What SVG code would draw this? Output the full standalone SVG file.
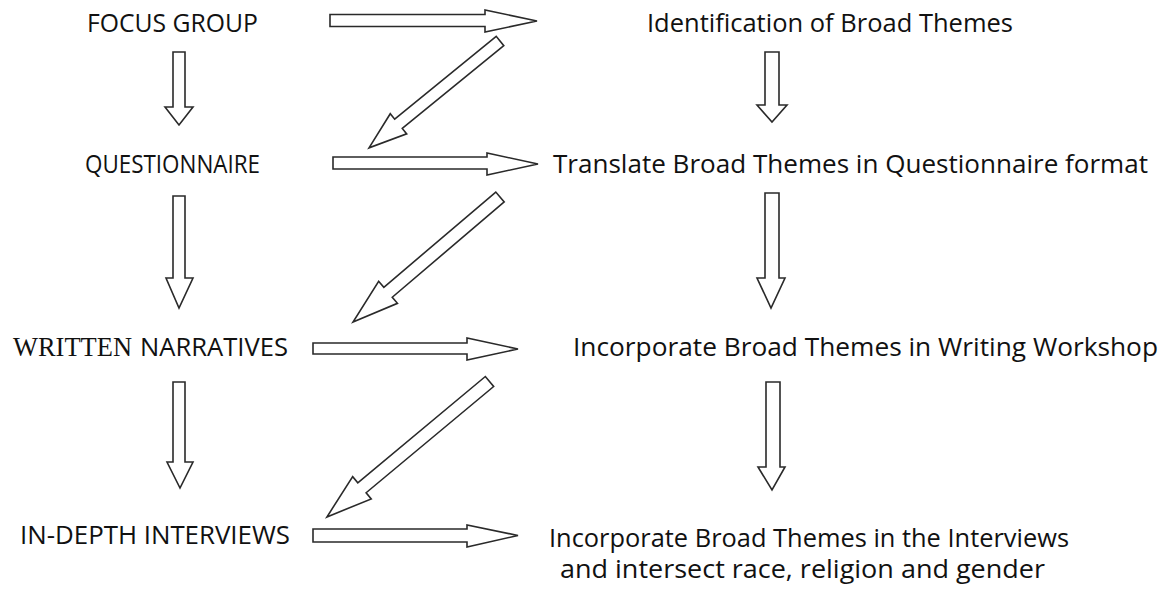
<svg xmlns="http://www.w3.org/2000/svg" width="1169" height="594" viewBox="0 0 1169 594">
  <style>
    .lbl { font-family: "Open Sans", "Liberation Sans", sans-serif; font-size: 25px; fill: #111; }
    .serif { font-family: "Liberation Serif", "Times New Roman", serif; font-size: 27px; fill: #111; }
    .blk { fill: #fff; stroke: #2a2a2a; stroke-width: 1.6; stroke-linejoin: miter; }
  </style>
  <rect width="1169" height="594" fill="#fff"/>

  <!-- left column: research stages -->
  <g id="focus-group">
    <text class="lbl" x="87" y="32" textLength="171" lengthAdjust="spacingAndGlyphs">FOCUS GROUP</text>
  </g>
  <g id="questionnaire">
    <text class="lbl" x="85" y="173" textLength="175" lengthAdjust="spacingAndGlyphs">QUESTIONNAIRE</text>
  </g>
  <g id="written-narratives">
    <text class="serif" x="13" y="356" textLength="119" lengthAdjust="spacingAndGlyphs">WRITTEN</text>
    <text class="lbl" x="140" y="356" textLength="148" lengthAdjust="spacingAndGlyphs">NARRATIVES</text>
  </g>
  <g id="in-depth-interviews">
    <text class="lbl" x="20" y="544" textLength="270" lengthAdjust="spacingAndGlyphs">IN-DEPTH INTERVIEWS</text>
  </g>

  <!-- right column: theme handling -->
  <g id="identify-themes">
    <text class="lbl" x="647" y="32" textLength="366" lengthAdjust="spacingAndGlyphs">Identification of Broad Themes</text>
  </g>
  <g id="translate-themes">
    <text class="lbl" x="553" y="173" textLength="595" lengthAdjust="spacingAndGlyphs">Translate Broad Themes in Questionnaire format</text>
  </g>
  <g id="workshop-themes">
    <text class="lbl" x="573" y="356" textLength="585" lengthAdjust="spacingAndGlyphs">Incorporate Broad Themes in Writing Workshop</text>
  </g>
  <g id="interview-themes">
    <text class="lbl" x="549" y="547" textLength="520" lengthAdjust="spacingAndGlyphs">Incorporate Broad Themes in the Interviews</text>
    <text class="lbl" x="560" y="578" textLength="485" lengthAdjust="spacingAndGlyphs">and intersect race, religion and gender</text>
  </g>

  <!-- block arrows -->
  <g id="connectors">
    <!-- left column, downward -->
    <path class="blk" d="M173,52 H185 V107 H193 L179,125 L165,107 H173 Z"/>
    <path class="blk" d="M173,196 H185 V278 H193 L179,308 L166,278 H173 Z"/>
    <path class="blk" d="M173,382 H185 V462 H193 L180,488 L167,462 H173 Z"/>

    <!-- right column, downward -->
    <path class="blk" d="M765,52 H779 V105 H787 L772,122 L757,105 H765 Z"/>
    <path class="blk" d="M765,193 H779 V278 H785 L771,308 L757,278 H765 Z"/>
    <path class="blk" d="M766,382 H780 V467 H785 L772,490 L758,467 H766 Z"/>

    <!-- across, left to right -->
    <path class="blk" d="M330,14.5 H485 V10 L537,21 L485,32 V26.5 H330 Z"/>
    <path class="blk" d="M333,157 H487 V153 L538,164 L487,175 V169 H333 Z"/>
    <path class="blk" d="M313,343 H467 V338 L518,349 L467,360 V354 H313 Z"/>
    <path class="blk" d="M313,529 H467 V525 L518,535.5 L467,547 V542 H313 Z"/>

    <!-- diagonal returns, right column back to next stage -->
    <path class="blk" transform="translate(500,41) rotate(140.8)" d="M0,-6 H131 V-13 L169,0 L131,13 V6 H0 Z"/>
    <path class="blk" transform="translate(500,197) rotate(139.6)" d="M0,-6.5 H147 V-14.5 L193,0 L147,14.5 V6.5 H0 Z"/>
    <path class="blk" transform="translate(489.5,381.5) rotate(140.2)" d="M0,-6.5 H166 V-14.5 L211.6,0 L166,14.5 V6.5 H0 Z"/>
  </g>
</svg>
